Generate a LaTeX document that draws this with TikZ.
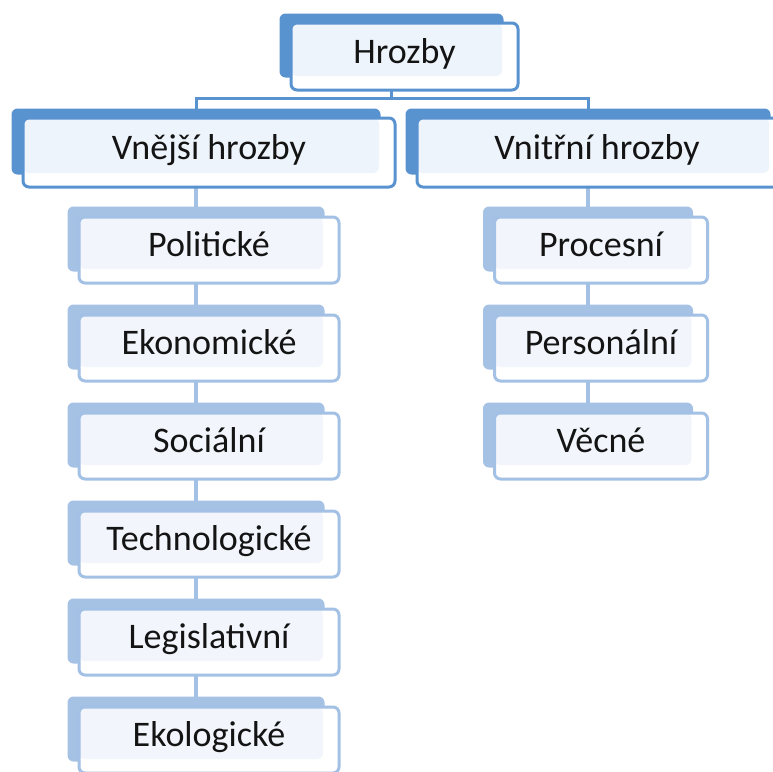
\documentclass[tikz,border=0pt]{standalone}
\usepackage{fontspec}
\setmainfont{Carlito}
\usepackage{xcolor}
\usepackage{tikz}
\usetikzlibrary{positioning, backgrounds}
\definecolor{mainblue}{RGB}{88,146,207}
\definecolor{subblue}{RGB}{165,194,229}
\definecolor{subline}{RGB}{163,192,229}
\definecolor{paleblue}{RGB}{238,244,251}
\definecolor{palesub}{RGB}{242,246,252}
\definecolor{textdark}{RGB}{20,20,20}
\tikzset{
  threat/.style={
    rectangle, rounded corners=6pt, minimum width=260pt, minimum height=66pt,
    inner sep=0pt, draw=subline, line width=3pt, fill=white,
    font=\fontsize{36}{40}\selectfont, text=textdark,
    text height=22pt, text depth=9pt,
    path picture={\fill[palesub] (path picture bounding box.north west)
      rectangle ([xshift=-16pt,yshift=14pt]path picture bounding box.south east);}
  },
  mainthreat/.style={
    threat, draw=mainblue,
    path picture={\fill[paleblue] (path picture bounding box.north west)
      rectangle ([xshift=-16pt,yshift=14pt]path picture bounding box.south east);}
  },
  backmain/.style={fill=mainblue, rounded corners=6pt},
  backsub/.style={fill=subblue, rounded corners=6pt},
  linkmain/.style={line width=3pt, color=mainblue},
  linksub/.style={line width=4pt, color=subline}
}
\begin{document}
\begin{tikzpicture}[x=1pt, y=-1pt]
  \useasboundingbox (0,0) rectangle (773,771);

  % Top level
  \node[mainthreat, minimum width=227pt, minimum height=67pt] (top) at (404.5,56.5) {Hrozby};
  \node[mainthreat, minimum width=372pt, minimum height=69pt] (ext) at (209,152.5) {Vnější hrozby};
  \node[mainthreat, minimum width=368pt, minimum height=69pt] (int) at (601,152.5) {\hspace*{-8pt}Vnitřní hrozby};

  % External threats
  \node[threat, below=27pt of ext] (pol) {Politické};
  \node[threat, below=29pt of pol] (eko) {Ekonomické};
  \node[threat, below=29pt of eko] (soc) {Sociální};
  \node[threat, below=29pt of soc] (tech) {Technologické};
  \node[threat, below=29pt of tech] (leg) {Legislativní};
  \node[threat, below=29pt of leg] (ekol) {Ekologické};

  % Internal threats
  \node[threat, minimum width=213pt, below=27pt of int] (proc) {Procesní};
  \node[threat, minimum width=213pt, below=29pt of proc] (pers) {Personální};
  \node[threat, minimum width=213pt, below=29pt of pers] (vec) {Věcné};

  \coordinate (fork) at ([yshift=-7pt]top.south);

  \begin{scope}[on background layer]
    % connectors
    \draw[linkmain] ([xshift=-13pt]top.center) -- ([xshift=-13pt]fork);
    \draw[linkmain] ([xshift=-13pt]ext.center) |- ([xshift=-13pt]fork) -| ([xshift=-13pt]int.center);
    \foreach \a/\b in {ext/pol, pol/eko, eko/soc, soc/tech, tech/leg, leg/ekol,
                       int/proc, proc/pers, pers/vec}
      \draw[linksub] ([xshift=-13pt]\a.center) -- ([xshift=-13pt]\b.center);
    % back plates
    \foreach \n in {top, ext, int}
      \fill[backmain] ([xshift=-10pt,yshift=8pt]\n.north west)
        rectangle ([xshift=-16pt,yshift=14pt]\n.south east);
    \foreach \n in {pol, eko, soc, tech, leg, ekol, proc, pers, vec}
      \fill[backsub] ([xshift=-10pt,yshift=9pt]\n.north west)
        rectangle ([xshift=-16pt,yshift=13pt]\n.south east);
  \end{scope}
\end{tikzpicture}
\end{document}
